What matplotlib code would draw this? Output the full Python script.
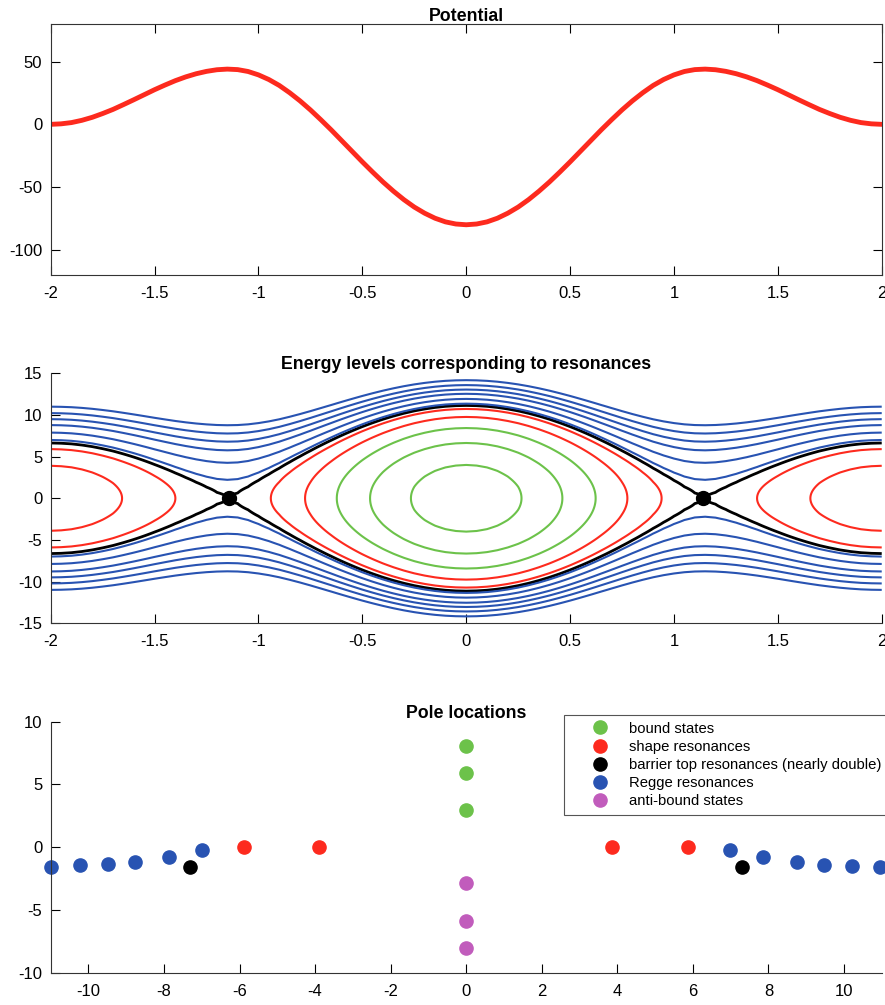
import numpy as np
import matplotlib
matplotlib.use('Agg')
import matplotlib.pyplot as plt
from matplotlib.lines import Line2D
from matplotlib.ticker import FormatStrFormatter

plt.rcParams['font.family'] = ['Liberation Sans', 'DejaVu Sans']
plt.rcParams['font.size'] = 12

# potential, x = 0 .. 2 step 0.05 (curve is symmetric)
x_half = np.round(np.arange(0, 2.0001, 0.05), 2)
v_half = [-80.0, -79.4, -77.7, -74.8, -70.8, -65.9, -60.0, -53.3, -46.0, -38.1,
          -29.9, -21.4, -12.9, -4.4, 3.7, 11.5, 18.7, 25.2, 31.0, 35.7,
          39.4, 42.1, 43.6, 44.0, 43.5, 42.2, 40.3, 37.8, 34.8, 31.3,
          27.6, 23.6, 19.6, 15.7, 11.9, 8.6, 5.6, 3.2, 1.4, 0.4, 0.0]

# energy levels drawn in the middle panel
e_bound = [-64.0, -36.0, -9.0]
e_shape = [15.2, 34.8]
e_barrier = [44.0]
e_regge = [48.9, 62.1, 77.1, 90.1, 104.4, 120.8]
saddle_x = [-1.14, 1.14]

# pole locations (re, im)
bound_re = [0, 0, 0]
bound_im = [8.08, 5.95, 2.94]
shape_re = [-5.88, -3.89, 3.87, 5.87]
shape_im = [0.05, 0.05, 0.05, 0.05]
barrier_re = [-7.32, 7.29]
barrier_im = [-1.6, -1.6]
regge_re = [-10.99, -10.22, -9.49, -8.78, -7.88, -6.99,
            6.98, 7.87, 8.76, 9.47, 10.2, 10.96]
regge_im = [-1.54, -1.44, -1.36, -1.2, -0.8, -0.21,
            -0.21, -0.8, -1.2, -1.38, -1.46, -1.55]
anti_re = [0, 0, 0]
anti_im = [-2.85, -5.86, -7.99]

c_green = '#6cc24a'
c_red = '#fd2a1e'
c_blue = '#2853b2'
c_purple = '#c15cbc'

x = np.concatenate([-x_half[:0:-1], x_half])
v = np.concatenate([np.array(v_half)[:0:-1], v_half])

fig = plt.figure(figsize=(8.85, 10.05), dpi=100)

def style(ax, box):
    ax.tick_params(direction='in', length=6.5, width=0.8, labelsize=12)
    ax.tick_params(axis='y', pad=6)
    ax.tick_params(axis='x', pad=8)
    for s in ax.spines.values():
        s.set_color('#333333')
        s.set_linewidth(0.8)
    if box:
        ax.tick_params(top=True, right=True)
    else:
        ax.spines['top'].set_visible(False)
        ax.spines['right'].set_visible(False)
    ax.xaxis.set_major_formatter(FormatStrFormatter('%g'))
    ax.yaxis.set_major_formatter(FormatStrFormatter('%g'))

title_kw = dict(fontweight='bold', fontsize=12.8, pad=2)

# Potential
ax1 = fig.add_axes([0.0573, 0.7264, 0.939, 0.2498])
ax1.plot(x, v, color=c_red, lw=3.5, solid_capstyle='round')
ax1.set_xlim(-2, 2)
ax1.set_ylim(-120, 80)
ax1.set_xticks(np.arange(-2, 2.01, 0.5))
ax1.set_yticks([-100, -50, 0, 50])
ax1.set_title('Potential', **title_kw)
style(ax1, True)

# Energy levels (H = p^2 + V)
ax2 = fig.add_axes([0.0573, 0.3798, 0.939, 0.2488])
p = np.linspace(-15, 15, 901)
X, P = np.meshgrid(x, p)
H = P ** 2 + np.tile(v, (len(p), 1))
for lev, col, lw in [(e_bound, c_green, 1.5), (e_shape, c_red, 1.5),
                     (e_barrier, 'black', 2.0), (e_regge, c_blue, 1.5)]:
    ax2.contour(X, P, H, levels=sorted(lev), colors=col, linewidths=lw,
                linestyles='solid')
ax2.plot(saddle_x, [0, 0], 'o', color='black', ms=10)
ax2.set_xlim(-2, 2)
ax2.set_ylim(-15, 15)
ax2.set_xticks(np.arange(-2, 2.01, 0.5))
ax2.set_yticks(np.arange(-15, 16, 5))
ax2.set_title('Energy levels corresponding to resonances', **title_kw)
style(ax2, False)

# Pole locations
ax3 = fig.add_axes([0.0573, 0.0321, 0.939, 0.2498])
ms = 9.5
ax3.plot(bound_re, bound_im, 'o', color=c_green, ms=ms, clip_on=False)
ax3.plot(shape_re, shape_im, 'o', color=c_red, ms=ms, clip_on=False)
ax3.plot(barrier_re, barrier_im, 'o', color='black', ms=ms, clip_on=False)
ax3.plot(regge_re, regge_im, 'o', color=c_blue, ms=ms, clip_on=False)
ax3.plot(anti_re, anti_im, 'o', color=c_purple, ms=ms, clip_on=False)
ax3.set_xlim(-11, 11)
ax3.set_ylim(-10, 10)
ax3.set_xticks(np.arange(-10, 11, 2))
ax3.set_yticks([-10, -5, 0, 5, 10])
ax3.set_title('Pole locations', **title_kw)
style(ax3, False)

labels = ['bound states', 'shape resonances', 'barrier top resonances (nearly double)',
          'Regge resonances', 'anti-bound states']
cols = [c_green, c_red, 'black', c_blue, c_purple]
handles = [Line2D([], [], ls='none', marker='o', color=c, ms=ms) for c in cols]
leg = fig.legend(handles, labels, loc='upper left', bbox_to_anchor=(564 / 885, 1 - 715 / 1005),
                 bbox_transform=fig.transFigure, borderaxespad=0, fontsize=10.7,
                 fancybox=False, framealpha=1, edgecolor='#555555',
                 handlelength=3.9, handletextpad=0.05, labelspacing=0.28,
                 borderpad=0.45)
leg.get_frame().set_linewidth(0.8)

fig.savefig('out.png', dpi=100)
